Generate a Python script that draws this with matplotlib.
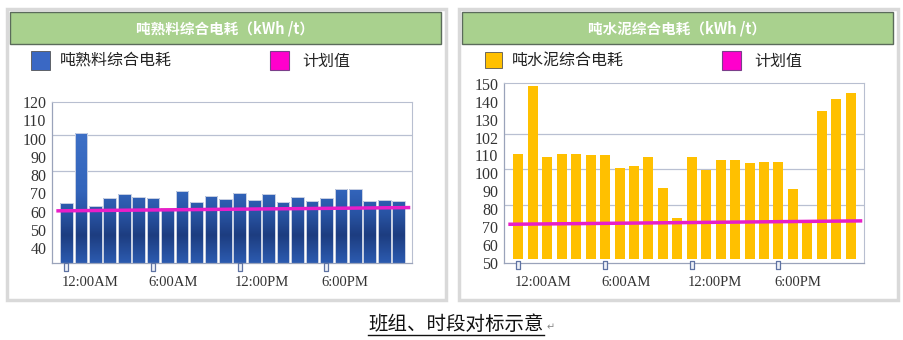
import matplotlib
matplotlib.use('Agg')
import matplotlib.pyplot as plt
import numpy as np
from matplotlib.patches import Rectangle
from matplotlib.lines import Line2D
from matplotlib.colors import LinearSegmentedColormap
from matplotlib.path import Path
import matplotlib.transforms as mtransforms

W, H = 904, 340

# ---------------- data ----------------
tick_positions = [0, 6, 12, 18]
tick_labels = ['12:00AM', '6:00AM', '12:00PM', '6:00PM']

clinker_title = '吨熟料综合电耗（kWh /t）'
clinker_name = '吨熟料综合电耗'
clinker = [65, 103, 63, 67.5, 69.5, 68, 67.5, 62, 71.5, 65.5, 68.5, 67,
           70.5, 66.5, 69.5, 65.5, 68, 66, 67.5, 72.5, 72.5, 66, 66.5, 66]
clinker_plan = [60.5, 62.3]
clinker_yticks = [40, 50, 60, 70, 80, 90, 100, 110, 120]
clinker_yticklabels = ['40', '50', '60', '70', '80', '90', '100', '110', '120']

cement_title = '吨水泥综合电耗（kWh /t）'
cement_name = '吨水泥综合电耗'
cement = [111, 149, 109, 111, 111, 110, 110, 103, 104, 109, 92, 75,
          109, 102, 107.5, 107.5, 106, 106.5, 106.5, 91.5, 74, 135, 141.5, 145]
cement_plan = [71.6, 73.5]
cement_yticks = [50, 60, 70, 80, 90, 100, 110, 120, 130, 140, 150]
cement_yticklabels = ['50', '60', '70', '80', '90', '100', '110', '102', '130', '140', '150']

plan_name = '计划值'
caption = '班组、时段对标示意'

CJK = ['Noto Sans CJK SC', 'DejaVu Sans']
SERIF = ['Liberation Serif', 'DejaVu Serif']

fig = plt.figure(figsize=(W / 100, H / 100), dpi=100)
fig.patch.set_facecolor('white')


def frect(x0, y0, x1, y1, **kw):
    """Rectangle given in top-left pixel coordinates."""
    r = Rectangle((x0 / W, 1 - y1 / H), (x1 - x0) / W, (y1 - y0) / H,
                  transform=fig.transFigure, **kw)
    fig.patches.append(r)
    return r


def axrect(x0, y0, x1, y1):
    return [x0 / W, 1 - y1 / H, (x1 - x0) / W, (y1 - y0) / H]


blue_cmap = LinearSegmentedColormap.from_list(
    'bb', [(0.0, '#2c5bb0'), (0.17, '#1d3d80'), (0.30, '#2853a3'),
           (0.45, '#3365bb'), (1.0, '#4375cc')])

box_marker = Path([(-0.25, 0), (0.25, 0), (0.25, -1), (-0.25, -1), (-0.25, 0)],
                  [Path.MOVETO, Path.LINETO, Path.LINETO, Path.LINETO, Path.CLOSEPOLY])


def panel(px0, px1, title, name, legend_color, values, plan, ax_box, ylim,
          base, yticks, yticklabels, width, gradient, leg1, leg2, label_dx):
    # panel frame
    frect(px0, 9, px1, 300, facecolor='white', edgecolor='#d9d9d9', lw=2.5, zorder=-3)
    # title band
    frect(px0 + 3, 12, px1 - 5, 44, facecolor='#a9d18e', edgecolor='#5b6b5b', lw=1.0, zorder=-2)
    fig.text(((px0 + 3 + px1 - 5) / 2) / W, 1 - 29 / H, title, color='white',
             fontsize=10.5, fontweight='bold', family=CJK, ha='center', va='center')
    # legend
    lx, lw_, ly0, ly1 = leg1
    frect(lx, ly0, lx + lw_, ly1, facecolor=legend_color, edgecolor='#555555', lw=0.6, zorder=-1)
    fig.text((lx + lw_ + 10) / W, 1 - ((ly0 + ly1) / 2) / H, name, fontsize=11.5,
             family=CJK, color='#222222', ha='left', va='center')
    mx = leg2
    frect(mx, 51, mx + 19, 70, facecolor='#ff00cc', edgecolor='#7a3f8a', lw=0.8, zorder=-1)
    fig.text((mx + 32) / W, 1 - 61 / H, plan_name, fontsize=11.5,
             family=CJK, color='#222222', ha='left', va='center')

    ax = fig.add_axes(axrect(*ax_box))
    ax.set_zorder(3)
    ax.set_facecolor('white')
    x = np.arange(len(values))
    vals = np.array(values, dtype=float)
    if gradient:
        bars = ax.bar(x, vals - base, bottom=base, width=width, facecolor='none',
                      edgecolor='#c9d1e3', lw=0.7, zorder=3)
        grad = np.linspace(0, 1, 256).reshape(-1, 1)
        for b in bars:
            x0 = b.get_x()
            im = ax.imshow(grad, extent=[x0, x0 + b.get_width(), ylim[0], ylim[1]],
                           origin='lower', aspect='auto', cmap=blue_cmap, zorder=2.5,
                           interpolation='bilinear')
            im.set_clip_path(b)
    else:
        ax.bar(x, vals - base, bottom=base, width=width, color='#ffc000',
               edgecolor='none', zorder=3)
    ax.set_xlim(-1.0, 23.92)
    ax.set_ylim(*ylim)
    ax.set_aspect('auto')

    # gridlines (slightly raised as in the reference)
    gtrans = ax.get_yaxis_transform() + mtransforms.ScaledTranslation(0, 4 / 100, fig.dpi_scale_trans)
    for g in [80, 100, 120]:
        if g < ylim[1] - 1:
            ax.plot([0, 1], [g, g], transform=gtrans, color='#b9c0d2', lw=0.9, zorder=1)

    # plan line
    px_ = [x[0] - 0.7, x[-1] + 0.8]
    ax.plot(px_, plan, color='#e81ec8', lw=2.5, zorder=5, solid_capstyle='butt')

    for s in ['left', 'bottom']:
        ax.spines[s].set_color('#9aa3ba')
        ax.spines[s].set_linewidth(0.9)
    for s in ['top', 'right']:
        ax.spines[s].set_color('#b8bfd0')
        ax.spines[s].set_linewidth(0.8)

    ax.set_yticks(yticks, yticklabels)
    ax.tick_params(axis='y', length=0, pad=4, labelsize=11.5, labelcolor='#333333')
    for t in ax.get_yticklabels():
        t.set_family(SERIF)
    ax.set_xticks([])

    tp = np.array(tick_positions)
    ax.plot(x[tp], [ylim[0]] * len(tp), ls='none', marker=box_marker, ms=11.5,
            mfc='#eef1f7', mec='#5f73a3', mew=0.9, clip_on=False, zorder=6)
    btrans = mtransforms.blended_transform_factory(ax.transData, ax.transAxes)
    for p, lab in zip(tp, tick_labels):
        ax.annotate(lab, xy=(x[p], 0), xycoords=btrans, xytext=(label_dx, -20),
                    textcoords='offset pixels', ha='left', va='center',
                    fontsize=10.5, family=SERIF, color='#333333')
    return ax


panel(7, 446, clinker_title, clinker_name, '#3a68c4', clinker, clinker_plan,
      (52, 102, 412, 263), (32, 120), 32, clinker_yticks, clinker_yticklabels,
      0.875, True, (31, 19, 51, 70), 270, -5)

panel(459, 898, cement_title, cement_name, '#ffc000', cement, cement_plan,
      (504, 83, 864, 263), (51, 150.4), 52, cement_yticks, cement_yticklabels,
      0.69, False, (485, 17, 52, 68), 722, -4)

# caption
cap = fig.text(456 / W, 1 - 324 / H, caption, fontsize=14, family=CJK,
               color='#111111', ha='center', va='center')
fig.canvas.draw()
bb = cap.get_window_extent()
fig.add_artist(Line2D([bb.x0 / W, bb.x1 / W], [1 - 334.5 / H, 1 - 334.5 / H],
                      transform=fig.transFigure, color='#111111', lw=1.0))
fig.text(bb.x1 / W + 3 / W, 1 - 327 / H, '↵', fontsize=7, color='#888888',
         family=['DejaVu Sans'], ha='left', va='center')

fig.savefig('out.png', dpi=100, facecolor='white')
